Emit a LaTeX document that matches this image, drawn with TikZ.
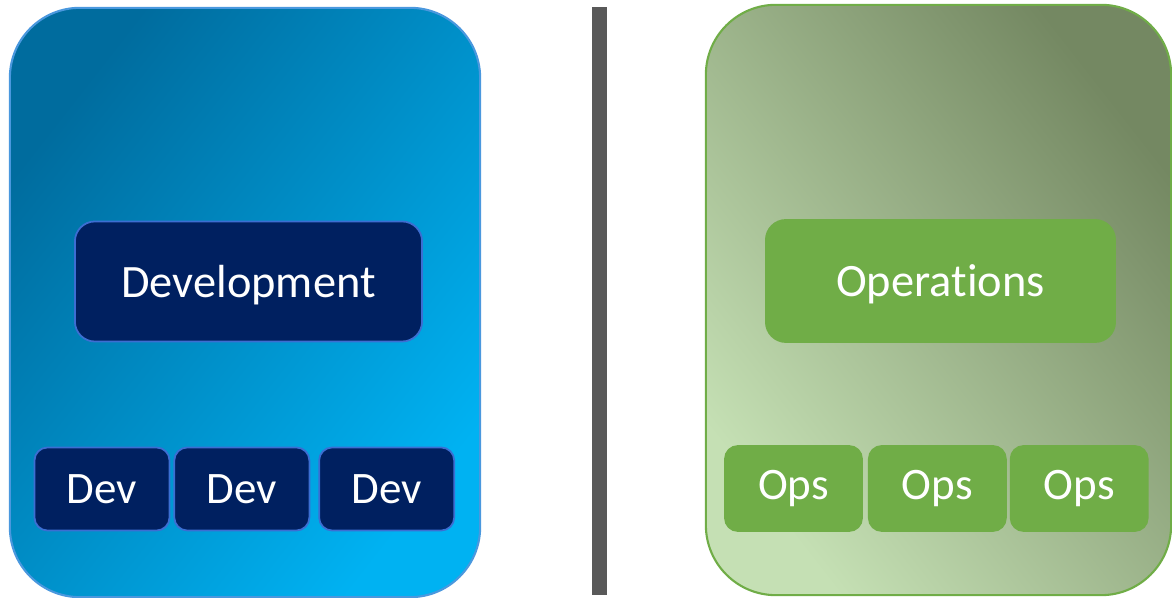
\documentclass[tikz,border=0pt]{standalone}
\usepackage{fontspec}
\setmainfont{Carlito}[Ligatures=NoCommon]
\usetikzlibrary{positioning}
\definecolor{devdark}{RGB}{0,108,158}
\definecolor{devlight}{RGB}{0,178,242}
\definecolor{devedge}{RGB}{74,152,222}
\definecolor{devnavy}{RGB}{0,32,96}
\definecolor{devline}{RGB}{60,110,210}
\definecolor{opsdark}{RGB}{116,136,98}
\definecolor{opslight}{RGB}{197,224,180}
\definecolor{opsgreen}{RGB}{112,173,71}
\definecolor{sepgray}{RGB}{89,89,89}

\begin{document}
\begin{tikzpicture}[
    x=0.01cm, y=-0.01cm,
    panel/.style={rectangle, rounded corners=0.7cm, line width=0.6pt, inner sep=0pt},
    devpanel/.style={panel, draw=devedge, top color=devdark, bottom color=devlight, shading angle=52},
    opspanel/.style={panel, draw=opsgreen, top color=opsdark, bottom color=opslight, shading angle=-52},
    box/.style={rectangle, inner sep=0pt, text=white},
    bigbox/.style={box, rounded corners=0.2cm, minimum width=3.47cm, minimum height=1.2cm, text depth=0pt, font=\fontsize{13.2pt}{16pt}\selectfont},
    smallbox/.style={box, rounded corners=0.13cm, minimum width=1.35cm, minimum height=0.83cm, font=\fontsize{12.8pt}{15pt}\selectfont},
    dev/.style={fill=devnavy, draw=devline, line width=0.5pt},
    ops/.style={fill=opsgreen, draw=opsgreen, line width=0.5pt}
]
\useasboundingbox (0,0) rectangle (1172,598);

% Development side
\node[devpanel, minimum width=4.7cm, minimum height=5.89cm] (devside) at (245,302.5) {};
\node[bigbox, dev] (devel) at (248.5,281.5) {Development};
\node[smallbox, dev] (dev1) at (102,489) {Dev};
\node[smallbox, dev, right=0.03cm of dev1] (dev2) {Dev};
\node[smallbox, dev, right=0.08cm of dev2] (dev3) {Dev};

% Separator
\node[rectangle, fill=sepgray, inner sep=0pt, minimum width=0.15cm, minimum height=5.88cm] (sep) at (599.5,301) {};

% Operations side
\node[opspanel, minimum width=4.65cm, minimum height=5.9cm] (opsside) at (938.5,300) {};
\node[bigbox, ops, minimum width=3.49cm, minimum height=1.22cm] (oper) at (940.5,281) {Operations};
\node[smallbox, ops, minimum width=1.37cm, minimum height=0.85cm] (ops1) at (793.5,488.5) {Ops};
\node[smallbox, ops, minimum width=1.37cm, minimum height=0.85cm, right=0.05cm of ops1] (ops2) {Ops};
\node[smallbox, ops, minimum width=1.37cm, minimum height=0.85cm, right=0.03cm of ops2] (ops3) {Ops};

\end{tikzpicture}
\end{document}
